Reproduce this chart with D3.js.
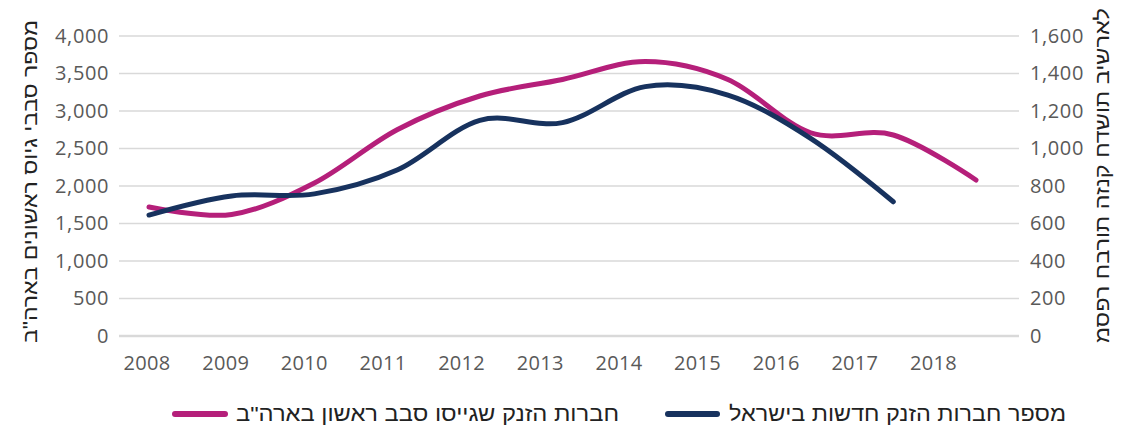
<!DOCTYPE html>
<html lang="he">
<head>
<meta charset="utf-8">
<script src="https://cdn.jsdelivr.net/npm/d3@7"></script>
<style>
  html, body { margin: 0; padding: 0; background: #fff; }
  svg { display: block; }
</style>
</head>
<body>
<svg id="chart" width="1139" height="432"></svg>
<script>
// ---- data ----
const years = ["2008","2009","2010","2011","2012","2013","2014","2015","2016","2017","2018"];
const usFirstRound = [1720, 1620, 2040, 2750, 3200, 3420, 3660, 3420, 2710, 2680, 2080];
const israelNewStartups = [645, 747, 758, 885, 1150, 1138, 1330, 1285, 1054, 716];
const leftTicks = [0, 500, 1000, 1500, 2000, 2500, 3000, 3500, 4000];
const rightTicks = [0, 200, 400, 600, 800, 1000, 1200, 1400, 1600];
const leftTitle = "מספר סבבי גיוס ראשונים בארה\"ב";
const rightTitle = "מספר חברות הזנק חדשות בישראל";
const seriesNames = ["חברות הזנק שגייסו סבב ראשון בארה\"ב", "מספר חברות הזנק חדשות בישראל"];

// ---- layout ----
const magenta = "#b51f7a", navy = "#17325e";
const plotLeft = 119, plotRight = 1019, plotTop = 36, plotBottom = 336;
const svg = d3.select("#chart");

const yLeft = d3.scaleLinear().domain([0, 4000]).range([plotBottom, plotTop]);
const yRight = d3.scaleLinear().domain([0, 1600]).range([plotBottom, plotTop]);
const xData = d3.scalePoint().domain(years).range([149, 976]);
const xLabel = d3.scalePoint().domain(years).range([146.5, 933]);

// gridlines
svg.append("g").selectAll("line").data(leftTicks).join("line")
  .attr("x1", plotLeft).attr("x2", plotRight)
  .attr("y1", d => yLeft(d)).attr("y2", d => yLeft(d))
  .attr("stroke", "#d9d9d9")
  .attr("stroke-width", d => d === 0 ? 2.5 : 1.6);

const tickFont = "'Open Sans', 'Liberation Sans', sans-serif";
const fmt = d3.format(",");

// left axis labels
const gL = svg.append("g").attr("transform", `translate(${plotLeft},0)`)
  .call(d3.axisLeft(yLeft).tickValues(leftTicks).tickSize(0).tickPadding(10).tickFormat(fmt));
gL.select(".domain").remove();
gL.selectAll("text").attr("font-family", tickFont).attr("font-size", 20)
  .attr("letter-spacing", 0.6).attr("fill", "#595959");

// right axis labels
const gR = svg.append("g").attr("transform", `translate(${plotRight},0)`)
  .call(d3.axisRight(yRight).tickValues(rightTicks).tickSize(0).tickPadding(11).tickFormat(fmt));
gR.select(".domain").remove();
gR.selectAll("text").attr("font-family", tickFont).attr("font-size", 20)
  .attr("letter-spacing", 0.6).attr("fill", "#595959");

// x axis labels
const gX = svg.append("g").attr("transform", `translate(0,${plotBottom})`)
  .call(d3.axisBottom(xLabel).tickSize(0).tickPadding(20));
gX.select(".domain").remove();
gX.selectAll("text").attr("font-family", tickFont).attr("font-size", 20)
  .attr("letter-spacing", 0.3).attr("fill", "#595959");

// lines
const curve = d3.curveCardinal.tension(0);
const lineUS = d3.line().x((d, i) => xData(years[i])).y(d => yLeft(d)).curve(curve);
const lineIL = d3.line().x((d, i) => xData(years[i])).y(d => yRight(d)).curve(curve);

svg.append("path").datum(usFirstRound).attr("d", lineUS)
  .attr("fill", "none").attr("stroke", magenta).attr("stroke-width", 5)
  .attr("stroke-linecap", "round").attr("stroke-linejoin", "round");
svg.append("path").datum(israelNewStartups).attr("d", lineIL)
  .attr("fill", "none").attr("stroke", navy).attr("stroke-width", 5)
  .attr("stroke-linecap", "round").attr("stroke-linejoin", "round");

// axis titles
const titleFont = "'Liberation Sans', 'DejaVu Sans', sans-serif";
svg.append("text")
  .attr("transform", "translate(37,181.5) rotate(-90)")
  .attr("text-anchor", "middle")
  .attr("direction", "rtl")
  .attr("font-family", titleFont).attr("font-size", 20).attr("fill", "#222")
  .attr("textLength", 323).attr("lengthAdjust", "spacingAndGlyphs")
  .text(leftTitle);

svg.append("text")
  .attr("transform", "translate(1109,343) rotate(-90)")
  .attr("text-anchor", "start")
  .style("direction", "ltr").style("unicode-bidi", "bidi-override")
  .attr("font-family", titleFont).attr("font-size", 20).attr("fill", "#222")
  .attr("textLength", 335).attr("lengthAdjust", "spacingAndGlyphs")
  .text(rightTitle);

// legend
const legend = [
  {name: seriesNames[0], color: magenta, x1: 175, x2: 225, tx: 619, tw: 383},
  {name: seriesNames[1], color: navy, x1: 668, x2: 717, tx: 1066, tw: 337}
];
const lg = svg.append("g");
legend.forEach(l => {
  lg.append("line").attr("x1", l.x1).attr("x2", l.x2).attr("y1", 414).attr("y2", 414)
    .attr("stroke", l.color).attr("stroke-width", 6).attr("stroke-linecap", "round");
  lg.append("text").attr("x", l.tx).attr("y", 421)
    .attr("text-anchor", "start").attr("direction", "rtl")
    .attr("font-family", titleFont).attr("font-size", 21).attr("fill", "#222")
    .attr("textLength", l.tw).attr("lengthAdjust", "spacingAndGlyphs")
    .text(l.name);
});
</script>
</body>
</html>
